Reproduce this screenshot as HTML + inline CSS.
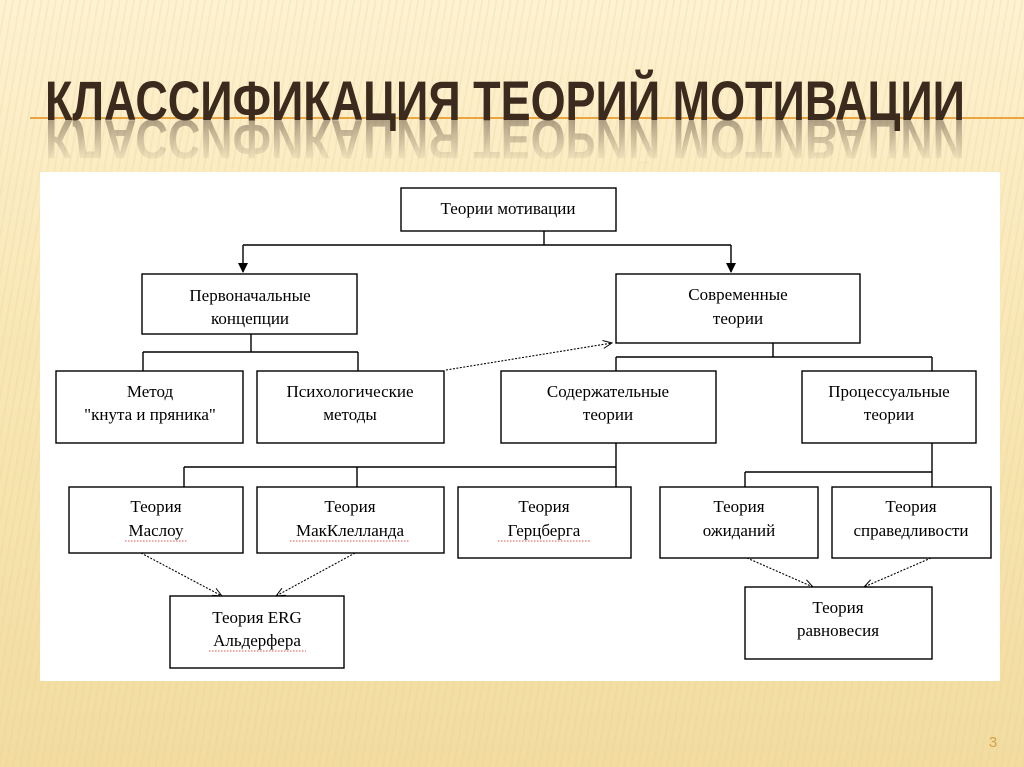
<!DOCTYPE html>
<html><head><meta charset="utf-8"><style>
html,body{margin:0;padding:0}
body{width:1024px;height:767px;overflow:hidden;position:relative;
background:linear-gradient(#fdf2d2,#f9e8b8 40%,#f2dca0);}
.str{position:absolute;left:0;top:0;width:1024px;height:767px;
background:repeating-linear-gradient(100deg,rgba(230,200,130,0) 0 5px,rgba(230,200,130,.18) 5px 7px);}
svg{position:absolute;left:0;top:0}
</style></head><body>
<div class="str"></div>
<svg width="1024" height="767" viewBox="0 0 1024 767">
<defs>
<linearGradient id="fade" x1="0" y1="0" x2="0" y2="1">
<stop offset="0" stop-color="#fff" stop-opacity=".4"/>
<stop offset="1" stop-color="#fff" stop-opacity="0"/>
</linearGradient>
<mask id="m"><rect x="0" y="120" width="1024" height="45" fill="url(#fade)"/></mask>
<marker id="a" markerWidth="10" markerHeight="10" refX="9" refY="5" orient="auto" markerUnits="userSpaceOnUse"><path d="M0,0 L10,5 L0,10 z" fill="#000"/></marker>
<marker id="o" markerWidth="10" markerHeight="10" refX="9" refY="5" orient="auto" markerUnits="userSpaceOnUse"><path d="M0,1 L9,5 L0,9" fill="none" stroke="#000" stroke-width="1"/></marker>
</defs>
<g mask="url(#m)"><text transform="translate(0,240) scale(1,-1)" x="45" y="120" textLength="920" lengthAdjust="spacingAndGlyphs" font-family="Liberation Sans, sans-serif" font-weight="bold" font-size="56" fill="#3b2a1e">КЛАССИФИКАЦИЯ ТЕОРИЙ МОТИВАЦИИ</text></g>
<line x1="30" y1="118" x2="1024" y2="118" stroke="#e9a640" stroke-width="2"/>
<text x="45" y="120" textLength="920" lengthAdjust="spacingAndGlyphs" font-family="Liberation Sans, sans-serif" font-weight="bold" font-size="56" fill="#3b2a1e">КЛАССИФИКАЦИЯ ТЕОРИЙ МОТИВАЦИИ</text>
<rect x="40" y="172" width="960" height="509" fill="#fff"/>
<g fill="none" stroke="#000" stroke-width="1.4">
<rect x="401" y="188" width="215" height="43"/>
<rect x="142" y="274" width="215" height="60"/>
<rect x="616" y="274" width="244" height="69"/>
<rect x="56" y="371" width="187" height="72"/>
<rect x="257" y="371" width="187" height="72"/>
<rect x="501" y="371" width="215" height="72"/>
<rect x="802" y="371" width="174" height="72"/>
<rect x="69" y="487" width="174" height="66"/>
<rect x="257" y="487" width="187" height="66"/>
<rect x="458" y="487" width="173" height="71"/>
<rect x="660" y="487" width="158" height="71"/>
<rect x="832" y="487" width="159" height="71"/>
<rect x="170" y="596" width="174" height="72"/>
<rect x="745" y="587" width="187" height="72"/>
<path d="M544 231V245M243 245H731"/>
<path d="M243 245V272" marker-end="url(#a)"/>
<path d="M731 245V272" marker-end="url(#a)"/>
<path d="M251 334V352M143 352H358M143 352V371M358 352V371"/>
<path d="M773 343V357M616 357H932M616 357V371M932 357V371"/>
<path d="M616 443V487M184 467H616M184 467V487M357 467V487"/>
<path d="M932 443V487M745 472H932M745 472V487"/>
</g>
<g fill="none" stroke="#000" stroke-width="1.1" stroke-dasharray="2,1.5">
<path d="M446 370L612 343" marker-end="url(#o)"/>
<path d="M141 553L222 596" marker-end="url(#o)"/>
<path d="M355 553L276 596" marker-end="url(#o)"/>
<path d="M747 558L813 587" marker-end="url(#o)"/>
<path d="M931 558L864 587" marker-end="url(#o)"/>
</g>
<g font-family="Liberation Serif, serif" font-size="17" fill="#000" text-anchor="middle">
<text x="508" y="214">Теории мотивации</text>
<text x="250" y="301">Первоначальные</text><text x="250" y="324">концепции</text>
<text x="738" y="300">Современные</text><text x="738" y="324">теории</text>
<text x="150" y="397">Метод</text><text x="150" y="420">"кнута и пряника"</text>
<text x="350" y="397">Психологические</text><text x="350" y="420">методы</text>
<text x="608" y="397">Содержательные</text><text x="608" y="420">теории</text>
<text x="889" y="397">Процессуальные</text><text x="889" y="420">теории</text>
<text x="156" y="512">Теория</text><text x="156" y="536">Маслоу</text>
<text x="350" y="512">Теория</text><text x="350" y="536">МакКлелланда</text>
<text x="544" y="512">Теория</text><text x="544" y="536">Герцберга</text>
<text x="739" y="512">Теория</text><text x="739" y="536">ожиданий</text>
<text x="911" y="512">Теория</text><text x="911" y="536">справедливости</text>
<text x="257" y="623">Теория  ERG</text><text x="257" y="646">Альдерфера</text>
<text x="838" y="613">Теория</text><text x="838" y="636">равновесия</text>
</g>
<g stroke="#e05050" stroke-width="1" stroke-dasharray="1.5,1.5">
<path d="M125 541H188M290 541H410M498 541H590M209 651H306"/>
</g>
<text x="993" y="747" font-family="Liberation Sans, sans-serif" font-size="15" fill="#d4a04a" text-anchor="middle">3</text>
</svg>
</body></html>
